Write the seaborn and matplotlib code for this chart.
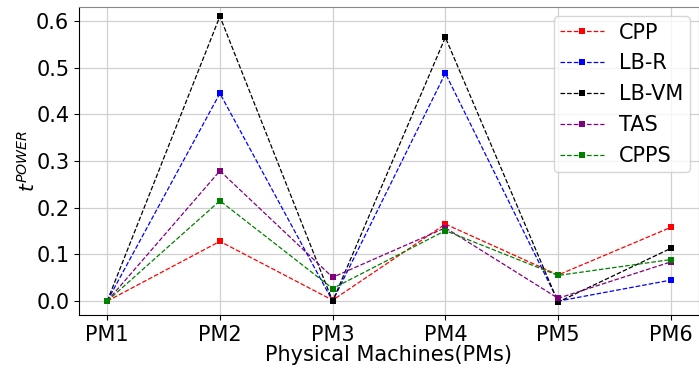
import matplotlib
matplotlib.use("Agg")
import matplotlib.pyplot as plt
import seaborn as sns
import pandas as pd

machines = ["PM1", "PM2", "PM3", "PM4", "PM5", "PM6"]
cpp = [0.0, 0.128, 0.002, 0.165, 0.056, 0.158]
lb_r = [0.0, 0.445, 0.0, 0.488, 0.0, 0.045]
lb_vm = [0.0, 0.610, 0.0, 0.565, -0.002, 0.113]
tas = [0.0, 0.279, 0.051, 0.157, 0.006, 0.084]
cpps = [0.0, 0.215, 0.027, 0.151, 0.055, 0.089]

series = {"CPP": cpp, "LB-R": lb_r, "LB-VM": lb_vm, "TAS": tas, "CPPS": cpps}
colors = {"CPP": "red", "LB-R": "blue", "LB-VM": "black", "TAS": "purple", "CPPS": "green"}

rows = []
for name, vals in series.items():
    for i, v in enumerate(vals):
        rows.append({"pm": i, "value": v, "method": name})
df = pd.DataFrame(rows)

fig = plt.figure(figsize=(6.99, 3.69), dpi=100)
ax = fig.add_axes([0.113, 0.146, 0.887, 0.835])

for name in series:
    sub = df[df["method"] == name]
    sns.lineplot(data=sub, x="pm", y="value", ax=ax, color=colors[name],
                 marker="s", markersize=4.3, markeredgewidth=0, linestyle="--",
                 linewidth=0.9, label=name)

ax.set_xticks(range(len(machines)))
ax.set_xticklabels(machines)
ax.set_xlim(-0.25, 5.25)
ax.set_ylim(-0.03, 0.63)
ax.set_yticks([0.0, 0.1, 0.2, 0.3, 0.4, 0.5, 0.6])
ax.tick_params(labelsize=15)
ax.grid(True, color="#d0d0d0", linewidth=0.9)
ax.set_axisbelow(True)
ax.set_xlabel("Physical Machines(PMs)", fontsize=15, labelpad=0)
ax.set_ylabel("$t^{POWER}$", fontsize=14.5, labelpad=-2)
for s in ["top", "right"]:
    ax.spines[s].set_color("#888888")
ax.legend(loc="upper right", fontsize=15, handlelength=2.1, handletextpad=0.75,
          borderpad=0.3, labelspacing=0.52, borderaxespad=0.45)

fig.savefig("out.png", dpi=100)
